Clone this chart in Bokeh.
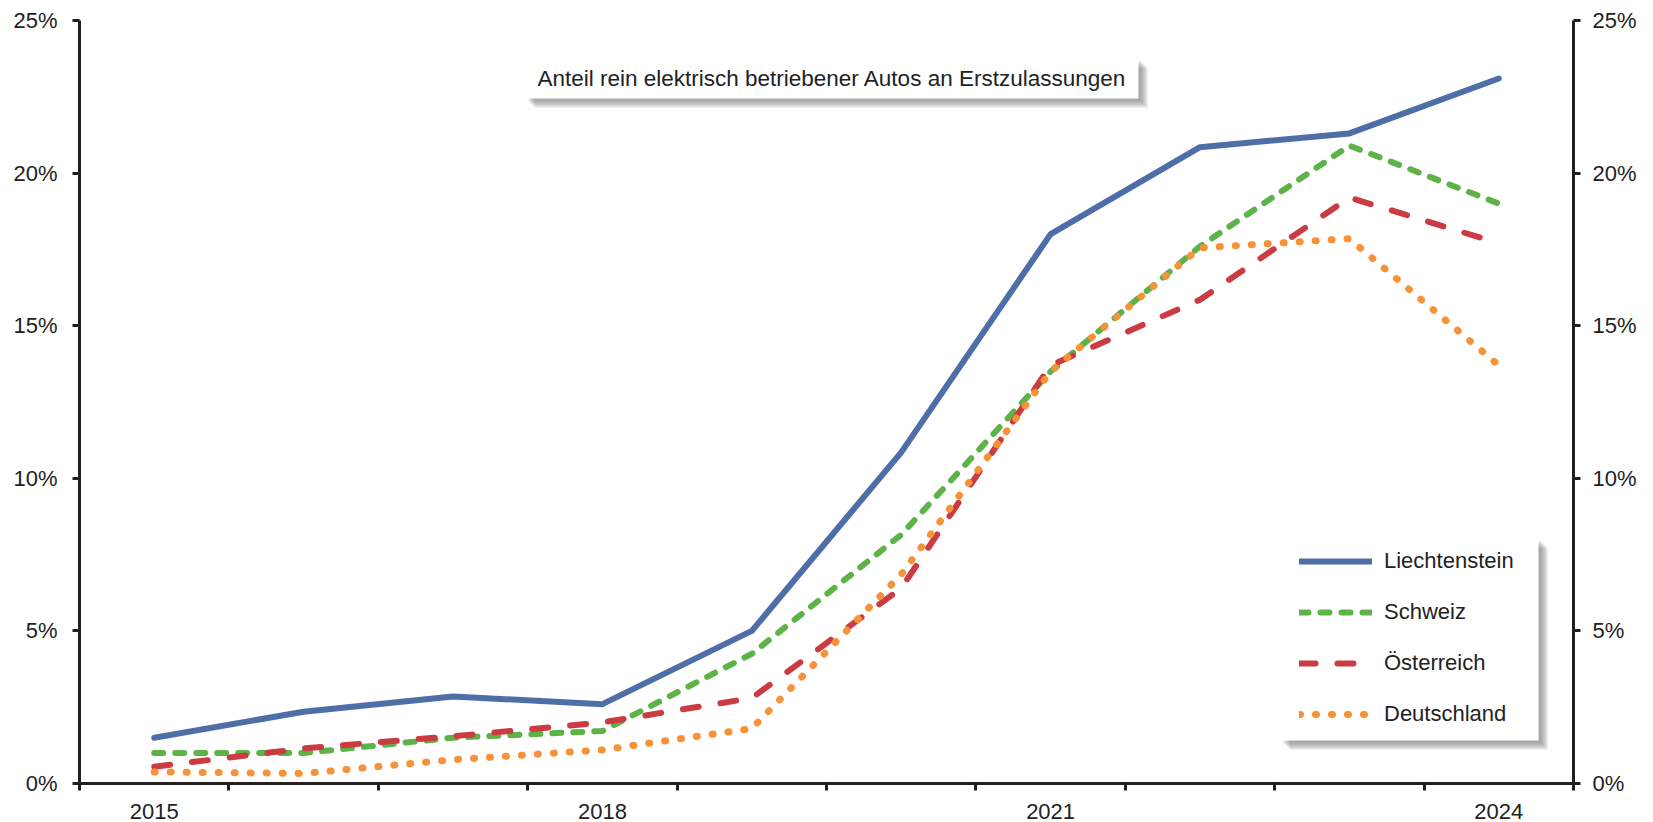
from bokeh.plotting import figure
from bokeh.models import (Range1d, LinearAxis, FixedTicker, PrintfTickFormatter,
                          CustomJSTickFormatter, BoxAnnotation, Label, Legend, LegendItem)
from bokeh.embed import file_html
from bokeh.resources import INLINE

# ---------------- data ----------------
years = [2015, 2016, 2017, 2018, 2019, 2020, 2021, 2022, 2023, 2024]
label_years = [2015, 2018, 2021, 2024]
y_ticks = [0, 5, 10, 15, 20, 25]

liechtenstein = [1.5, 2.35, 2.85, 2.6, 5.0, 10.85, 18.0, 20.85, 21.3, 23.1]
schweiz = [1.0, 1.0, 1.5, 1.72, 4.25, 8.15, 13.5, 17.6, 20.9, 19.0]
oesterreich = [0.55, 1.15, 1.55, 2.0, 2.8, 6.4, 13.7, 15.85, 19.2, 17.7]
deutschland = [0.38, 0.33, 0.78, 1.1, 1.8, 6.85, 13.5, 17.55, 17.85, 13.7]

series_names = ["Liechtenstein", "Schweiz", "Österreich", "Deutschland"]
title_text = "Anteil rein elektrisch betriebener Autos an Erstzulassungen"

# ---------------- style ----------------
FONT = "Liberation Sans"
INK = "#231F20"
TXT = "#222222"
colors = ["#4E6EA8", "#5DB248", "#CC3A42", "#F79239"]
dashes = ["solid", "9 12", "16 22", "1 15"]
widths = [6, 6, 6, 7]

n = len(years)
xs = [i + 0.5 for i in range(n)]

p = figure(width=1653, height=822, output_backend="svg", toolbar_location=None,
           x_range=Range1d(0, n), y_range=Range1d(0, 25),
           x_axis_type=None, y_axis_type=None,
           min_border_left=79, min_border_right=80, min_border_top=20, min_border_bottom=39)
p.outline_line_color = None
p.background_fill_color = "white"
p.border_fill_color = "white"


def style_axis(ax):
    ax.axis_line_color = INK
    ax.axis_line_width = 3
    ax.major_tick_line_color = INK
    ax.major_tick_line_width = 3
    ax.major_tick_in = 0
    ax.major_tick_out = 7
    ax.minor_tick_line_color = None
    ax.major_label_text_font = FONT
    ax.major_label_text_font_size = "22px"
    ax.major_label_text_color = TXT


# x axis: boundaries as (minor) tick marks, year labels at category centres
x_label_pos = [years.index(y) + 0.5 for y in label_years]
xaxis = LinearAxis(ticker=FixedTicker(ticks=x_label_pos, minor_ticks=list(range(n + 1))),
                   formatter=CustomJSTickFormatter(args=dict(years=years),
                                                   code="return String(years[Math.floor(tick)]);"))
style_axis(xaxis)
xaxis.major_tick_out = 0
xaxis.major_tick_line_color = None
xaxis.minor_tick_line_color = INK
xaxis.minor_tick_line_width = 3
xaxis.minor_tick_in = 0
xaxis.minor_tick_out = 7
xaxis.major_label_standoff = 13
p.add_layout(xaxis, "below")

for side, standoff in (("left", 15), ("right", 12)):
    yax = LinearAxis(ticker=FixedTicker(ticks=y_ticks, minor_ticks=[]),
                     formatter=PrintfTickFormatter(format="%d%%"))
    style_axis(yax)
    yax.major_label_standoff = standoff
    p.add_layout(yax, side)

# ---------------- lines ----------------
renderers = []
for vals, col, dash, w in zip([liechtenstein, schweiz, oesterreich, deutschland], colors, dashes, widths):
    r = p.line(xs, vals, line_color=col, line_width=w, line_dash=dash,
               line_cap="round", line_join="round")
    renderers.append(r)

# ---------------- boxes with shadow ----------------
XU = 1494 / n     # px per x unit
YU = 763 / 25     # px per y unit


def shadow_box(left, right, top, bottom):
    for k in (3, 5, 7, 9):
        p.add_layout(BoxAnnotation(left=left + k / XU, right=right + k / XU,
                                   top=top - k / YU, bottom=bottom - k / YU,
                                   fill_color="#6f6f6f", fill_alpha=0.2, line_color=None))
    p.add_layout(BoxAnnotation(left=left, right=right, top=top, bottom=bottom,
                               fill_color="white", fill_alpha=1.0, line_color=None))


# title box
t_left, t_right, t_top, t_bottom = 2.985, 7.088, 23.757, 22.446
shadow_box(t_left, t_right, t_top, t_bottom)
p.add_layout(Label(x=(t_left + t_right) / 2, y=(t_top + t_bottom) / 2, text=title_text,
                   text_align="center", text_baseline="middle",
                   text_font=FONT, text_font_size="22.5px", text_color=TXT))

# legend box
shadow_box(8.039, 9.766, 8.03, 1.41)

legend = Legend(items=[LegendItem(label=nm, renderers=[r]) for nm, r in zip(series_names, renderers)],
                location=(1220, 56), orientation="vertical",
                padding=0, margin=0, spacing=25,
                glyph_width=73, glyph_height=20, label_height=20, label_standoff=12,
                label_text_font=FONT, label_text_font_size="22px", label_text_color=TXT,
                label_text_baseline="middle",
                border_line_alpha=0, background_fill_alpha=0)
p.add_layout(legend)

open("out.html", "w").write(file_html(p, INLINE))
